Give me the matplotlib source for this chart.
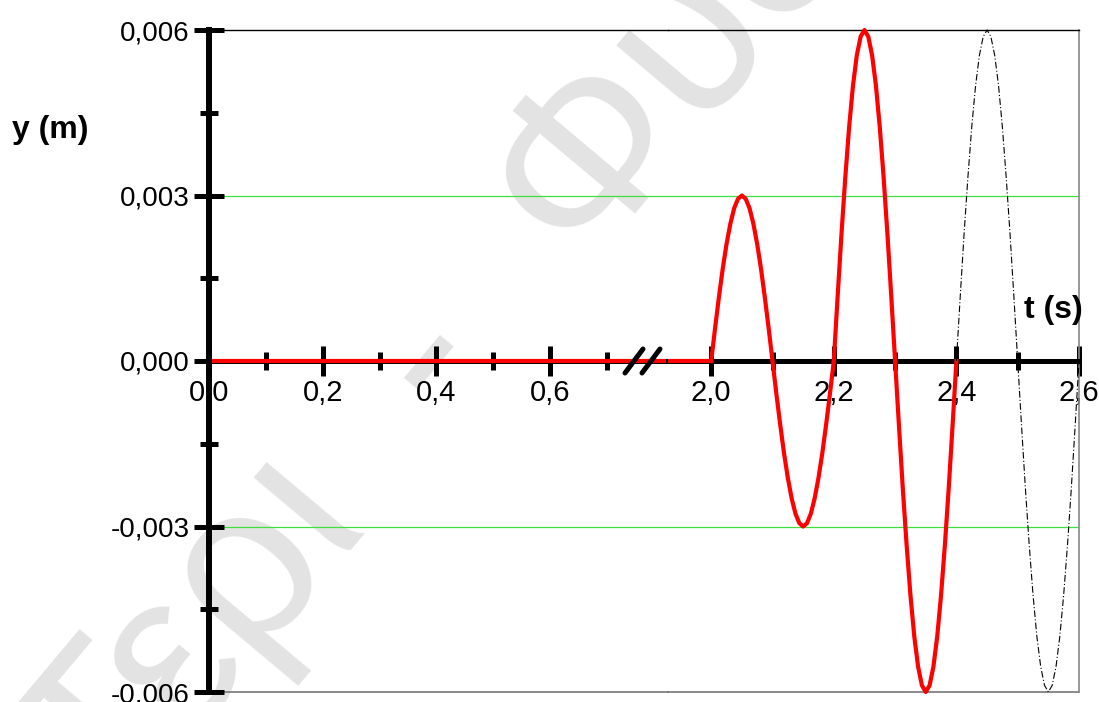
import matplotlib
matplotlib.use("Agg")
import matplotlib.pyplot as plt
from matplotlib.lines import Line2D
from matplotlib.ticker import FixedLocator, FuncFormatter

plt.rcParams['font.family'] = ['Liberation Sans', 'DejaVu Sans']

# rest before the wave arrives
rest_t = [0.0, 2.0]
rest_y = [0.0, 0.0]

# first oscillation, amplitude 3 mm (every 0.00625 s)
wave1_t = [2.0, 2.00625, 2.0125, 2.01875, 2.025, 2.03125, 2.0375, 2.04375,
           2.05, 2.05625, 2.0625, 2.06875, 2.075, 2.08125, 2.0875, 2.09375,
           2.1, 2.10625, 2.1125, 2.11875, 2.125, 2.13125, 2.1375, 2.14375,
           2.15, 2.15625, 2.1625, 2.16875, 2.175, 2.18125, 2.1875, 2.19375, 2.2]
wave1_y = [0.0, 0.00059, 0.00115, 0.00167, 0.00212, 0.00249, 0.00277, 0.00294,
           0.003, 0.00294, 0.00277, 0.00249, 0.00212, 0.00167, 0.00115, 0.00059,
           0.0, -0.00059, -0.00115, -0.00167, -0.00212, -0.00249, -0.00277, -0.00294,
           -0.003, -0.00294, -0.00277, -0.00249, -0.00212, -0.00167, -0.00115, -0.00059,
           0.0]

# second oscillation, amplitude 6 mm
wave2_t = [2.2, 2.20625, 2.2125, 2.21875, 2.225, 2.23125, 2.2375, 2.24375,
           2.25, 2.25625, 2.2625, 2.26875, 2.275, 2.28125, 2.2875, 2.29375,
           2.3, 2.30625, 2.3125, 2.31875, 2.325, 2.33125, 2.3375, 2.34375,
           2.35, 2.35625, 2.3625, 2.36875, 2.375, 2.38125, 2.3875, 2.39375, 2.4]
wave2_y = [0.0, 0.00117, 0.0023, 0.00333, 0.00424, 0.00499, 0.00554, 0.00588,
           0.006, 0.00588, 0.00554, 0.00499, 0.00424, 0.00333, 0.0023, 0.00117,
           0.0, -0.00117, -0.0023, -0.00333, -0.00424, -0.00499, -0.00554, -0.00588,
           -0.006, -0.00588, -0.00554, -0.00499, -0.00424, -0.00333, -0.0023, -0.00117,
           0.0]

# continuation (dash-dot)
wave3_t = [2.4, 2.40625, 2.4125, 2.41875, 2.425, 2.43125, 2.4375, 2.44375,
           2.45, 2.45625, 2.4625, 2.46875, 2.475, 2.48125, 2.4875, 2.49375,
           2.5, 2.50625, 2.5125, 2.51875, 2.525, 2.53125, 2.5375, 2.54375,
           2.55, 2.55625, 2.5625, 2.56875, 2.575, 2.58125, 2.5875, 2.59375, 2.6]
wave3_y = wave2_y

left_major = [0.0, 0.2, 0.4, 0.6]
left_minor = [0.1, 0.3, 0.5, 0.7]
right_major = [2.0, 2.2, 2.4, 2.6]
right_minor = [2.1, 2.3, 2.5]
y_major = [-0.006, -0.003, 0.0, 0.003, 0.006]
y_minor = [-0.0045, -0.0015, 0.0015, 0.0045]

W, H = 1099, 702
fig = plt.figure(figsize=(W / 100, H / 100), dpi=100)

# watermark, behind the axes
fig.text(114 / W, 1 - 833 / H, "Τερι  -  Φυσική", fontsize=165, color='#e3e3e3',
         rotation=50, rotation_mode='anchor', ha='left', va='baseline',
         zorder=-1)

x0, xb, x1 = 209, 668, 1079
top, bot = 30, 692
axL = fig.add_axes([x0 / W, 1 - bot / H, (xb - x0) / W, (bot - top) / H])
axR = fig.add_axes([xb / W, 1 - bot / H, (x1 - xb) / W, (bot - top) / H])
for ax in (axL, axR):
    ax.patch.set_alpha(0)

axL.set_xlim(0, (xb - x0) / 568.6)
axR.set_xlim(2.0 - (711 - xb) / 610, 2.6)

comma = FuncFormatter(lambda v, p: ("%.1f" % v).replace('.', ','))
ycomma = FuncFormatter(lambda v, p: ("%.3f" % v).replace('.', ','))

for ax, maj, mnr in ((axL, left_major, left_minor), (axR, right_major, right_minor)):
    ax.set_ylim(-0.006, 0.006)
    ax.plot(rest_t, rest_y, color='red', lw=3, zorder=3)
    for g in (-0.003, 0.003):
        ax.axhline(g, color='#3ee03e', lw=0.9, zorder=1)
    ax.axhline(-0.006, color='#777777', lw=1.2, zorder=1, clip_on=False)
    ax.spines['bottom'].set_position(('data', 0))
    ax.spines['bottom'].set_linewidth(3.6)
    ax.spines['bottom'].set_zorder(2.6)
    ax.spines['top'].set_linewidth(1.0)
    ax.xaxis.set_major_locator(FixedLocator(maj))
    ax.xaxis.set_minor_locator(FixedLocator(mnr))
    ax.xaxis.set_major_formatter(comma)
    ax.tick_params(axis='x', which='major', direction='inout', length=22,
                   width=3.6, labelsize=21, pad=2)
    ax.tick_params(axis='x', which='minor', direction='inout', length=13,
                   width=3.6)

axR.plot(wave1_t, wave1_y, color='red', lw=3, zorder=3, clip_on=False,
         solid_joinstyle='round')
axR.plot(wave2_t, wave2_y, color='red', lw=3, zorder=3, clip_on=False,
         solid_joinstyle='round')
axR.plot(wave3_t, wave3_y, color='black', lw=0.8, ls=(0, (6, 2, 1, 2)),
         zorder=3, clip_on=False)

axL.spines['right'].set_visible(False)
axR.spines['left'].set_visible(False)
axR.spines['right'].set_color('#888888')
axR.spines['right'].set_linewidth(1.2)
axR.yaxis.set_visible(False)

axL.spines['left'].set_linewidth(4.3)
axL.spines['left'].set_zorder(3.5)
axL.yaxis.set_major_locator(FixedLocator(y_major))
axL.yaxis.set_minor_locator(FixedLocator(y_minor))
axL.yaxis.set_major_formatter(ycomma)
axL.tick_params(axis='y', which='major', direction='inout', length=22,
                width=3.6, labelsize=20, pad=3)
axL.tick_params(axis='y', which='minor', direction='inout', length=13,
                width=3.6)

# axis break marks
for cx in (634, 651):
    fig.add_artist(Line2D([(cx - 9) / W, (cx + 9) / W],
                          [1 - 373 / H, 1 - 349 / H], color='black', lw=3.6,
                          solid_capstyle='round', zorder=5))

fig.text(1053 / W, 1 - 310 / H, "t (s)", fontsize=23, fontweight='bold',
         ha='center', va='center')
fig.text(12 / W, 1 - 130 / H, "y (m)", fontsize=23, fontweight='bold',
         ha='left', va='center')

fig.savefig("out.png", dpi=100)
